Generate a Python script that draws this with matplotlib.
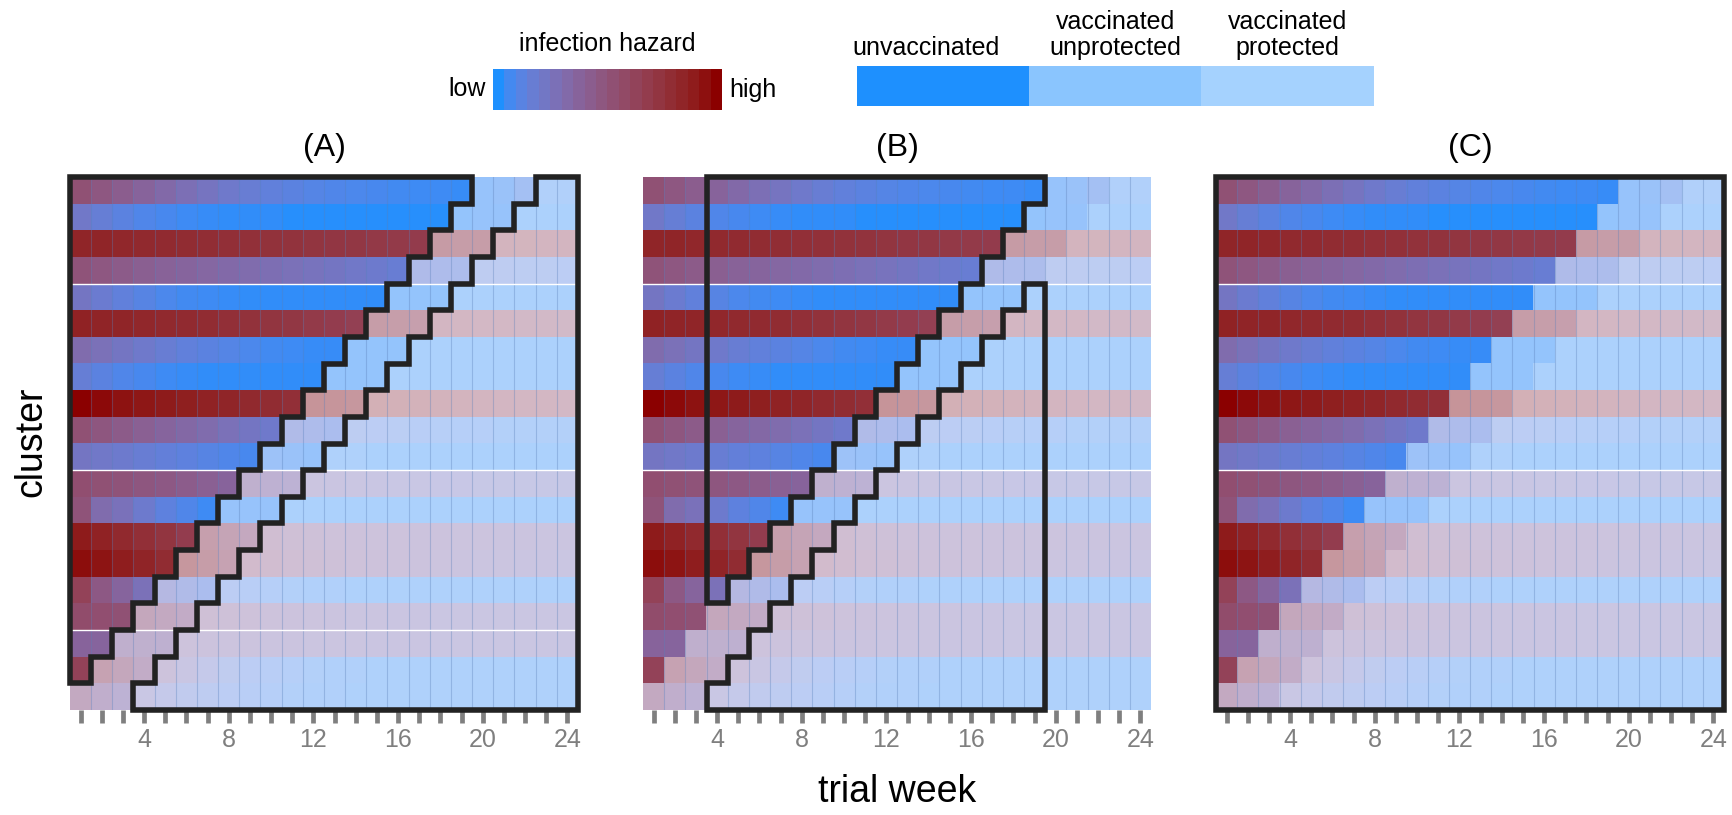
import numpy as np
import matplotlib
matplotlib.use("Agg")
import matplotlib.pyplot as plt
from matplotlib.colors import ListedColormap
from matplotlib.patches import Polygon, Rectangle

plt.rcParams['font.family'] = ['Liberation Sans', 'DejaVu Sans']

# ---- data ----
weeks = list(range(1, 25))
tick_weeks = [4, 8, 12, 16, 20, 24]
# week in which each cluster (top to bottom) starts vaccination
vacc_start = [20, 19, 18, 17, 16, 15, 14, 13, 12, 11, 10, 9, 8, 7, 6, 5, 4, 3, 2, 1]
protect_delay = 3          # weeks from vaccination until protected
window_b = (4, 19)         # weeks counted in panel (B)
panel_titles = ["(A)", "(B)", "(C)"]
status_labels = ["unvaccinated", "vaccinated\nunprotected", "vaccinated\nprotected"]

# infection hazard per cluster and week (0 = low, 100 = high)
hazard = [
    [52, 47, 42, 37, 32, 27, 23, 19, 16, 13, 11, 9, 8, 7, 6, 5, 4, 4, 3, 3, 4, 8, 4, 4],
    [20, 15, 11, 8, 6, 4, 3, 2, 2, 2, 1, 1, 1, 1, 1, 1, 1, 1, 2, 3, 3, 2, 2, 2],
    [84, 84, 83, 82, 81, 80, 79, 78, 77, 76, 75, 74, 73, 72, 71, 70, 69, 66, 64, 64, 62, 61, 60, 60],
    [50, 47, 44, 41, 38, 36, 34, 32, 30, 28, 26, 24, 22, 20, 18, 16, 15, 14, 13, 12, 12, 11, 11, 10],
    [22, 17, 13, 10, 7, 5, 4, 3, 2, 2, 2, 2, 2, 2, 2, 2, 2, 2, 2, 2, 2, 2, 2, 2],
    [86, 85, 84, 83, 82, 81, 80, 78, 76, 74, 72, 70, 68, 66, 64, 62, 60, 58, 56, 55, 54, 53, 52, 51],
    [30, 26, 22, 19, 16, 13, 11, 9, 7, 5, 4, 3, 3, 2, 2, 2, 2, 2, 2, 2, 2, 2, 2, 2],
    [15, 11, 8, 6, 4, 3, 2, 2, 2, 2, 2, 2, 2, 2, 2, 2, 2, 2, 2, 2, 2, 2, 2, 2],
    [100, 97, 94, 92, 90, 88, 86, 84, 82, 80, 78, 76, 74, 72, 70, 68, 66, 64, 62, 60, 58, 57, 56, 55],
    [52, 48, 44, 40, 36, 33, 30, 26, 22, 19, 16, 14, 12, 11, 10, 9, 8, 7, 6, 6, 5, 5, 5, 5],
    [22, 20, 18, 16, 14, 12, 10, 8, 6, 5, 4, 3, 3, 3, 2, 2, 2, 2, 2, 2, 2, 2, 2, 2],
    [54, 52, 50, 48, 46, 43, 40, 37, 34, 32, 30, 28, 27, 26, 25, 24, 24, 23, 23, 22, 22, 22, 22, 22],
    [50, 30, 25, 18, 12, 8, 4, 3, 3, 3, 2, 2, 2, 2, 2, 2, 2, 2, 2, 2, 2, 2, 2, 2],
    [90, 86, 82, 78, 74, 68, 60, 53, 46, 42, 38, 36, 34, 33, 32, 32, 31, 31, 30, 30, 29, 29, 28, 28],
    [96, 93, 89, 85, 80, 72, 64, 56, 48, 43, 40, 38, 36, 34, 33, 32, 31, 30, 29, 28, 28, 27, 27, 26],
    [64, 46, 36, 26, 20, 16, 12, 10, 8, 6, 5, 4, 4, 3, 3, 3, 3, 3, 3, 3, 3, 3, 3, 3],
    [56, 54, 52, 48, 44, 41, 38, 36, 34, 32, 31, 30, 29, 28, 28, 27, 27, 26, 26, 26, 26, 26, 26, 26],
    [37, 36, 35, 34, 33, 32, 31, 30, 30, 29, 29, 28, 28, 28, 27, 27, 27, 26, 26, 26, 26, 26, 26, 26],
    [64, 56, 48, 40, 32, 25, 19, 14, 10, 8, 6, 5, 4, 4, 3, 3, 3, 3, 3, 3, 3, 3, 3, 3],
    [44, 36, 30, 24, 19, 15, 12, 10, 8, 6, 5, 4, 4, 3, 3, 3, 3, 3, 3, 3, 3, 3, 3, 3],
]

# ---- colour scale: dodgerblue -> darkred interpolated in Lab ----
def srgb_to_lab(rgb):
    c = np.asarray(rgb, float)
    lin = np.where(c <= 0.04045, c / 12.92, ((c + 0.055) / 1.055) ** 2.4)
    M = np.array([[0.4124, 0.3576, 0.1805], [0.2126, 0.7152, 0.0722], [0.0193, 0.1192, 0.9505]])
    xyz = M @ lin / np.array([0.95047, 1.0, 1.08883])
    f = np.where(xyz > (6 / 29) ** 3, np.cbrt(xyz), xyz / (3 * (6 / 29) ** 2) + 4 / 29)
    return np.array([116 * f[1] - 16, 500 * (f[0] - f[1]), 200 * (f[1] - f[2])])

def lab_to_srgb(lab):
    L, a, b = lab
    fy = (L + 16) / 116
    f = np.array([fy + a / 500, fy, fy - b / 200])
    xyz = np.where(f > 6 / 29, f ** 3, 3 * (6 / 29) ** 2 * (f - 4 / 29)) * np.array([0.95047, 1.0, 1.08883])
    Minv = np.linalg.inv(np.array([[0.4124, 0.3576, 0.1805], [0.2126, 0.7152, 0.0722], [0.0193, 0.1192, 0.9505]]))
    lin = np.clip(Minv @ xyz, 0, 1)
    return np.where(lin <= 0.0031308, 12.92 * lin, 1.055 * lin ** (1 / 2.4) - 0.055)

low_lab = srgb_to_lab(matplotlib.colors.to_rgb("#1E90FF"))
high_lab = srgb_to_lab(matplotlib.colors.to_rgb("#8B0000"))
cmap = ListedColormap([lab_to_srgb(low_lab + t * (high_lab - low_lab)) for t in np.linspace(0, 1, 256)])

alpha_unprot = 0.52
alpha_prot = 0.40

H = np.array(hazard) / 100.0
nrow, ncol = H.shape
vs = np.array(vacc_start)[:, None]
wk = np.array(weeks)[None, :]
status = np.where(wk < vs, 0, np.where(wk < vs + protect_delay, 1, 2))

rgb = cmap(H)[..., :3]
fade = np.choose(status, [1.0, alpha_unprot, alpha_prot])[..., None]
img = 1 - fade * (1 - rgb)


def unvacc_outline(lo, hi):
    pts = [(lo, 0)]
    last = 0
    for r, v in enumerate(vacc_start):
        xe = min(v - 1, hi)
        if xe <= lo:
            break
        pts += [(xe, r), (xe, r + 1)]
        last = r + 1
    pts.append((lo, last))
    return pts


def protected_outline(lo, hi):
    starts = [v - 1 + protect_delay for v in vacc_start]
    first = next(r for r, s in enumerate(starts) if s < hi)
    pts = [(hi, first), (hi, nrow)]
    for r in range(nrow - 1, first - 1, -1):
        s = max(starts[r], lo)
        pts += [(s, r + 1), (s, r)]
    return pts


W, Hpx = 1733, 815
fig = plt.figure(figsize=(W / 100, Hpx / 100), dpi=100)

lefts = [70, 643, 1216]
pw, top, bot = 508, 177, 710
axes = []
for i, x0 in enumerate(lefts):
    ax = fig.add_axes([x0 / W, 1 - bot / Hpx, pw / W, (bot - top) / Hpx])
    ax.imshow(img, extent=(0, ncol, nrow, 0), aspect="auto", interpolation="nearest")
    for x in range(1, ncol):
        ax.axvline(x, color="#5a7fb8", lw=0.8, alpha=0.35, zorder=2)
    white_rows = [4, 11, 17] if i == 0 else [4, 11]
    for y in white_rows:
        ax.axhline(y, color="white", lw=1.0, zorder=3)
    ax.set_xlim(0, ncol)
    ax.set_ylim(nrow, 0)
    ax.set_yticks([])
    ax.set_xticks([w - 0.5 for w in weeks])
    ax.set_xticklabels([str(w) if w in tick_weeks else "" for w in weeks])
    ax.tick_params(axis="x", length=9, width=3.4, color="#7f7f7f", labelcolor="#7f7f7f",
                   labelsize=18, pad=4)
    for s in ax.spines.values():
        s.set_visible(False)
    ax.set_title(panel_titles[i], fontsize=23, pad=15)
    axes.append(ax)

outline_kw = dict(fill=False, ec="#222222", lw=4, joinstyle="miter", clip_on=False, zorder=5)
# (A) whole trial
axes[0].add_patch(Polygon(unvacc_outline(0, ncol), closed=True, **outline_kw))
axes[0].add_patch(Polygon(protected_outline(0, ncol), closed=True, **outline_kw))
# (B) restricted window
lo_b, hi_b = window_b[0] - 1, window_b[1]
axes[1].add_patch(Polygon(unvacc_outline(lo_b, hi_b), closed=True, **outline_kw))
axes[1].add_patch(Polygon(protected_outline(lo_b, hi_b), closed=True, **outline_kw))
# (C) everything
axes[2].add_patch(Rectangle((0, 0), ncol, nrow, **outline_kw))

fig.text(31 / W, 1 - 442 / Hpx, "cluster", rotation=90, fontsize=27, ha="center", va="center")
fig.text(897 / W, 1 - 792 / Hpx, "trial week", fontsize=27, ha="center", va="center")

# ---- hazard legend ----
cax = fig.add_axes([493 / W, 1 - 110 / Hpx, 229 / W, 41 / Hpx])
grad = np.linspace(0, 1, 20)[None, :]
cax.imshow(grad, cmap=cmap, aspect="auto", extent=(0, 1, 0, 1), interpolation="nearest")
cax.axis("off")
cax.text(0.5, 1.32, "infection hazard", transform=cax.transAxes, ha="center", va="bottom", fontsize=18)
cax.text(-0.03, 0.5, "low", transform=cax.transAxes, ha="right", va="center", fontsize=18)
cax.text(1.03, 0.5, "high", transform=cax.transAxes, ha="left", va="center", fontsize=18)

# ---- status legend ----
sax = fig.add_axes([857 / W, 1 - 106 / Hpx, 517 / W, 40 / Hpx])
low_rgb = np.array(cmap(0.0)[:3])
seg = np.array([[low_rgb, 1 - alpha_unprot * (1 - low_rgb), 1 - alpha_prot * (1 - low_rgb)]])
sax.imshow(seg, aspect="auto", extent=(0, 3, 0, 1), interpolation="nearest")
sax.set_xlim(0, 3)
sax.axis("off")
for k, lab in enumerate(status_labels):
    sax.text(k + 0.5 - (0.1 if k == 0 else 0), 1.15, lab, ha="center", va="bottom", fontsize=18,
             linespacing=1.1)

fig.savefig("out.png", dpi=100)
